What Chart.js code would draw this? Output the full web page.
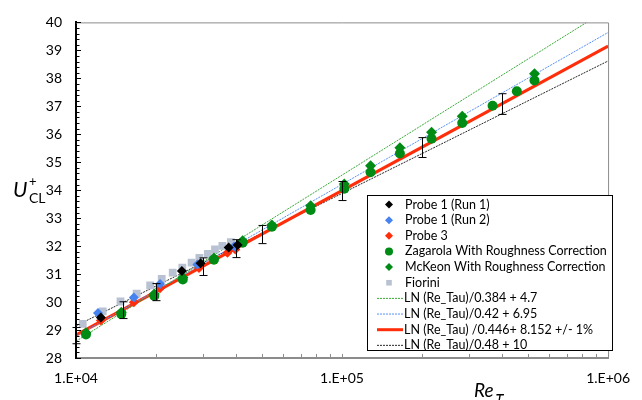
<!DOCTYPE html>
<html>
<head>
<meta charset="utf-8">
<script src="https://cdn.jsdelivr.net/npm/chart.js@4.4.0/dist/chart.umd.min.js"></script>
<style>
  html, body { margin: 0; padding: 0; background: #fff; }
  #wrap { width: 642px; height: 400px; }
</style>
</head>
<body>
<div id="wrap"><canvas id="chart" width="642" height="400"></canvas></div>
<script>
// measured points (Re_tau, U+CL)
const probe1Run1Re = [1.24e4, 2.50e4, 2.94e4, 3.75e4, 4.05e4];
const probe1Run1U  = [29.45, 31.11, 31.39, 31.95, 32.04];

const probe1Run2Re = [1.21e4, 1.65e4, 2.07e4, 2.86e4, 3.93e4];
const probe1Run2U  = [29.61, 30.16, 30.65, 31.34, 31.99];

const probe3Re = [1.24e4, 1.65e4, 2.07e4, 2.90e4, 3.71e4, 3.97e4];
const probe3U  = [29.34, 29.99, 30.49, 31.22, 31.76, 31.88];

const zagarolaRe = [1.09e4, 1.48e4, 1.97e4, 2.52e4, 3.30e4, 4.23e4, 5.45e4, 7.62e4, 1.02e5, 1.28e5, 1.65e5, 2.17e5, 2.83e5, 3.68e5, 4.54e5, 5.29e5];
const zagarolaU  = [28.84, 29.57, 30.22, 30.81, 31.51, 32.12, 32.69, 33.29, 34.05, 34.64, 35.31, 35.84, 36.40, 37.02, 37.54, 37.92];

const mckeonRe = [1.09e4, 1.48e4, 1.97e4, 2.52e4, 3.30e4, 4.23e4, 5.45e4, 7.62e4, 1.02e5, 1.28e5, 1.65e5, 2.17e5, 2.83e5, 5.29e5];
const mckeonU  = [28.90, 29.64, 30.29, 30.88, 31.58, 32.19, 32.76, 33.44, 34.22, 34.87, 35.52, 36.07, 36.64, 38.16];

const fioriniRe = [1.06e4, 1.26e4, 1.47e4, 1.69e4, 1.90e4, 2.10e4, 2.31e4, 2.51e4, 2.72e4, 2.91e4, 3.13e4, 3.33e4, 3.55e4, 3.82e4];
const fioriniU  = [29.22, 29.67, 30.02, 30.30, 30.60, 30.83, 31.05, 31.23, 31.41, 31.58, 31.72, 31.88, 32.01, 32.14];

// log-law lines, end points read at Re = 1E+04 and 1E+06
const lineRe    = [1e4, 1e6];
const lineGreen = [28.60, 40.48];
const lineBlue  = [28.78, 39.64];
const lineRed   = [28.82, 39.15];
const lineBlack = [29.15, 38.62];

// +/- 1% bars on the red line
const errRe   = [1e4, 1.5e4, 2e4, 3e4, 4e4, 5e4, 1e5, 2e5, 4e5];
const errLow  = [28.51, 29.41, 30.05, 30.95, 31.59, 32.09, 33.63, 35.17, 36.71];
const errHigh = [29.09, 30.01, 30.66, 31.58, 32.23, 32.74, 34.31, 35.88, 37.45];

const xTicks = [1e4, 1e5, 1e6];
const xTickLabels = ['1.E+04', '1.E+05', '1.E+06'];

const legendLabels = [
    'Probe 1 (Run 1)',
    'Probe 1 (Run 2)',
    'Probe 3',
    'Zagarola With Roughness Correction',
    'McKeon With Roughness Correction',
    'Fiorini',
    'LN (Re_Tau)/0.384 + 4.7',
    'LN (Re_Tau)/0.42 + 6.95',
    'LN (Re_Tau) /0.446+ 8.152 +/- 1%',
    'LN (Re_Tau)/0.48 + 10'
];

const colors = {
    black : '#000000',
    blue  : 'rgb(70, 130, 240)',
    red   : 'rgb(255, 45, 10)',
    green : 'rgb(0, 140, 20)',
    gray  : 'rgb(184, 194, 210)',
    lnGreen : 'rgb(60, 170, 60)',
    lnBlue  : 'rgb(90, 145, 245)',
    lnBlack : 'rgb(40, 40, 40)'
};

const toXY = (xs, ys) => xs.map((x, i) => ({ x: x, y: ys[i] }));

const pointSet = (label, xs, ys, color, style, r) => ({
    label: label,
    data: toXY(xs, ys),
    showLine: false,
    pointStyle: style,
    pointRadius: r,
    pointBackgroundColor: color,
    pointBorderColor: color,
    pointBorderWidth: 0
});

const lineSet = (label, ys, color, width, dash) => ({
    label: label,
    data: toXY(lineRe, ys),
    showLine: true,
    pointRadius: 0,
    borderColor: color,
    borderWidth: width,
    borderDash: dash,
    fill: false
});

const legendMarks = [
    { type: 'rectRot', color: colors.black },
    { type: 'rectRot', color: colors.blue },
    { type: 'rectRot', color: colors.red },
    { type: 'circle', color: colors.green },
    { type: 'rectRot', color: colors.green },
    { type: 'rect', color: colors.gray },
    { type: 'line', color: colors.lnGreen, width: 1, dash: [2, 1] },
    { type: 'line', color: colors.lnBlue, width: 1, dash: [2, 1] },
    { type: 'line', color: colors.red, width: 3, dash: [] },
    { type: 'line', color: colors.lnBlack, width: 1, dash: [2, 1] }
];

function drawMark(ctx, m, x, y, r) {
    ctx.fillStyle = m.color;
    ctx.beginPath();
    if (m.type === 'circle') {
        ctx.arc(x, y, r, 0, Math.PI * 2);
    } else if (m.type === 'rect') {
        ctx.rect(x - r * 0.8, y - r * 0.8, r * 1.6, r * 1.6);
    } else {
        ctx.moveTo(x, y - r); ctx.lineTo(x + r, y); ctx.lineTo(x, y + r); ctx.lineTo(x - r, y);
        ctx.closePath();
    }
    ctx.fill();
}

const extras = {
    id: 'extras',
    afterDatasetsDraw(chart) {
        const ctx = chart.ctx;
        const xs = chart.scales.x, ys = chart.scales.y;
        ctx.save();
        ctx.strokeStyle = '#000';
        ctx.lineWidth = 1;
        errRe.forEach((re, i) => {
            const px = Math.round(xs.getPixelForValue(re)) + 0.5;
            const y1 = ys.getPixelForValue(errLow[i]);
            const y2 = ys.getPixelForValue(errHigh[i]);
            ctx.beginPath();
            ctx.moveTo(px, y1); ctx.lineTo(px, y2);
            ctx.moveTo(px - 4, y1); ctx.lineTo(px + 4, y1);
            ctx.moveTo(px - 4, y2); ctx.lineTo(px + 4, y2);
            ctx.stroke();
        });
        ctx.restore();
    },
    afterDraw(chart) {
        const ctx = chart.ctx;
        const a = chart.chartArea;
        const xs = chart.scales.x, ys = chart.scales.y;
        ctx.save();
        // plot frame, top and right
        ctx.strokeStyle = '#8c8c8c';
        ctx.lineWidth = 1;
        ctx.beginPath();
        ctx.moveTo(a.left, a.top + 0.5); ctx.lineTo(a.right + 0.5, a.top + 0.5); ctx.lineTo(a.right + 0.5, a.bottom);
        ctx.stroke();

        // y ticks, inside
        ctx.strokeStyle = '#000';
        for (let v = 28; v <= 40.001; v += 0.2) {
            const py = Math.round(ys.getPixelForValue(v)) + 0.5;
            const major = Math.abs(v - Math.round(v)) < 0.01;
            ctx.beginPath();
            ctx.moveTo(a.left, py); ctx.lineTo(a.left + (major ? 5 : 3.5), py);
            ctx.stroke();
        }
        // x minor ticks, inside
        ctx.strokeStyle = '#8c8c8c';
        [1e4, 1e5].forEach(d => {
            for (let k = 2; k <= 10; k++) {
                const px = Math.round(xs.getPixelForValue(d * k)) + 0.5;
                ctx.beginPath();
                ctx.moveTo(px, a.bottom); ctx.lineTo(px, a.bottom - 4);
                ctx.stroke();
            }
        });

        // legend box
        const lx = 367, ly = 195, lw = 245, lh = 155;
        ctx.fillStyle = '#fff';
        ctx.fillRect(lx, ly, lw, lh);
        ctx.strokeStyle = '#000';
        ctx.strokeRect(lx + 0.5, ly + 0.5, lw, lh);
        ctx.font = '12.5px Lato';
        ctx.textBaseline = 'middle';
        legendLabels.forEach((t, i) => {
            const y = 204.5 + i * 15.65;
            const m = legendMarks[i];
            if (m.type === 'line') {
                ctx.strokeStyle = m.color;
                ctx.lineWidth = m.width;
                ctx.setLineDash(m.dash);
                ctx.beginPath();
                ctx.moveTo(377, y); ctx.lineTo(403, y);
                ctx.stroke();
                ctx.setLineDash([]);
                ctx.fillStyle = '#000';
                ctx.fillText(t, 404, y);
            } else {
                drawMark(ctx, m, 389, y, m.type === 'rect' ? 3.5 : 4);
                ctx.fillStyle = '#000';
                ctx.fillText(t, 405, y);
            }
        });

        // axis titles
        ctx.fillStyle = '#000';
        ctx.textBaseline = 'alphabetic';
        ctx.font = 'italic 21px Lato';
        ctx.fillText('U', 13, 197);
        ctx.font = '13px Lato';
        ctx.fillText('+', 29, 186);
        ctx.font = '14px Lato';
        ctx.fillText('CL', 29, 203);
        ctx.font = 'italic 19px Lato';
        ctx.fillText('Re', 474, 397);
        ctx.font = 'italic 15px "DejaVu Sans"';
        ctx.fillText('τ', 495, 403);
        ctx.restore();
    }
};

const ctx = document.getElementById('chart').getContext('2d');
const chart = new Chart(ctx, {
    type: 'scatter',
    data: {
        datasets: [
            pointSet('Probe 1 (Run 1)', probe1Run1Re, probe1Run1U, colors.black, 'rectRot', 5),
            pointSet('Probe 1 (Run 2)', probe1Run2Re, probe1Run2U, colors.blue, 'rectRot', 5),
            pointSet('Probe 3', probe3Re, probe3U, colors.red, 'rectRot', 5),
            pointSet('McKeon With Roughness Correction', mckeonRe, mckeonU, colors.green, 'rectRot', 5.5),
            pointSet('Zagarola With Roughness Correction', zagarolaRe, zagarolaU, colors.green, 'circle', 5),
            pointSet('Fiorini', fioriniRe, fioriniU, colors.gray, 'rect', 5.5),
            lineSet('LN (Re_Tau)/0.384 + 4.7', lineGreen, colors.lnGreen, 1, [2, 1]),
            lineSet('LN (Re_Tau)/0.42 + 6.95', lineBlue, colors.lnBlue, 1, [2, 1]),
            lineSet('LN (Re_Tau) /0.446+ 8.152 +/- 1%', lineRed, colors.red, 3, []),
            lineSet('LN (Re_Tau)/0.48 + 10', lineBlack, colors.lnBlack, 1, [2, 1])
        ]
    },
    options: {
        responsive: false,
        animation: false,
        layout: { padding: { top: 18, right: 23, left: 0, bottom: 0 } },
        plugins: {
            legend: { display: false },
            tooltip: { enabled: false }
        },
        scales: {
            x: {
                type: 'logarithmic',
                min: 1e4,
                max: 1e6,
                afterFit: s => { s.height = 42; },
                afterBuildTicks: s => { s.ticks = xTicks.map(v => ({ value: v })); },
                grid: { display: false, drawTicks: false },
                border: { color: '#8c8c8c', width: 2 },
                ticks: {
                    callback: (v, i) => xTickLabels[i],
                    padding: 12,
                    maxRotation: 0,
                    autoSkip: false,
                    color: '#000',
                    font: { family: 'Lato', size: 14 }
                }
            },
            y: {
                min: 28,
                max: 40,
                afterFit: s => { s.width = 76; },
                grid: { display: false, drawTicks: false },
                border: { color: '#000', width: 2 },
                ticks: {
                    stepSize: 1,
                    padding: 14,
                    color: '#000',
                    font: { family: 'Lato', size: 14 }
                }
            }
        }
    },
    plugins: [extras]
});
</script>
</body>
</html>
